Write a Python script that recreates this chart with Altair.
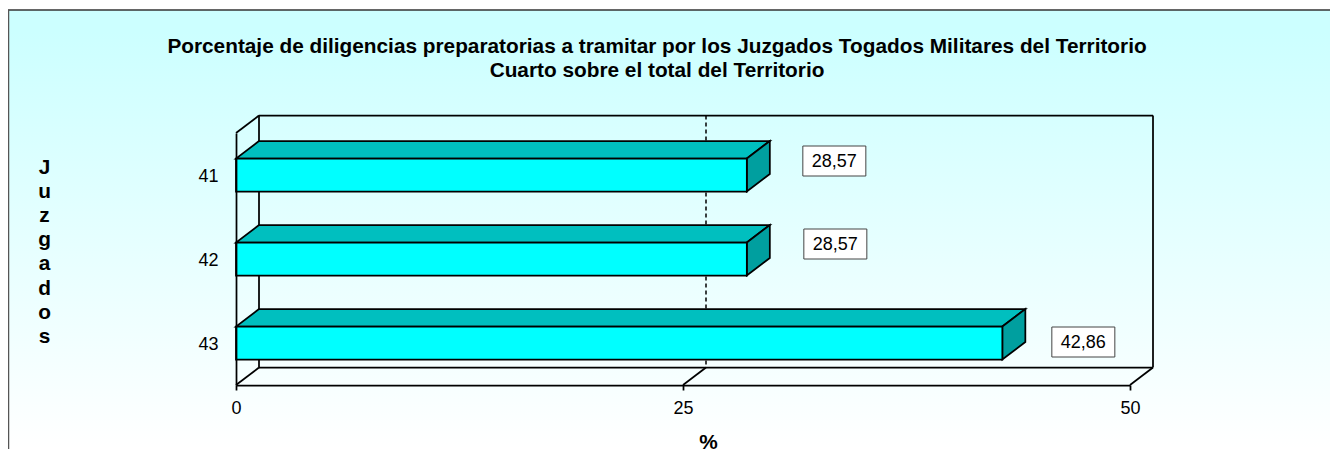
import altair as alt
import pandas as pd

juzgados = ["41", "42", "43"]
valores = [28.57, 28.57, 42.86]
etiquetas = ["28,57", "28,57", "42,86"]
x_ticks = [0, 25, 50]
label_dx_px = [87.5, 88.5, 81.0]
label_dy_px = [-14.0, -15.0, -1.0]

FONT = "Liberation Sans"
FS = 18
FSB = 20.8
LW = 1.75
W, H = 894, 252
PX = W / 50.0
PY = H / 3.0
DX = 23 / PX
DY = 17.5 / PY
HALF = 16.5 / PY
BOX_W, BOX_H = 63 / PX, 30 / PY

xs = alt.Scale(domain=[0, 50], nice=False, zero=False)
ys = alt.Scale(domain=[3, 0], nice=False, zero=False)

top_rows, side_rows, label_rows = [], [], []
for i, (j, v, t, ldx, ldy) in enumerate(zip(juzgados, valores, etiquetas, label_dx_px, label_dy_px)):
    c = i + 0.5
    top_rows += [
        {"j": j, "y": c - HALF, "a": 0, "b": v},
        {"j": j, "y": c - HALF - DY, "a": DX, "b": v + DX},
    ]
    side_rows += [
        {"j": j, "x": v, "a": c - HALF, "b": c + HALF},
        {"j": j, "x": v + DX, "a": c - HALF - DY, "b": c + HALF - DY},
    ]
    lx = v + ldx / PX
    ly = c + ldy / PY
    label_rows.append({"t": t, "x": lx, "y": ly, "x0": lx - BOX_W / 2, "x1": lx + BOX_W / 2,
                       "y0": ly - BOX_H / 2, "y1": ly + BOX_H / 2})

bars = pd.DataFrame({"j": juzgados, "v": valores, "y0": [i + 0.5 - HALF for i in range(3)],
                     "y1": [i + 0.5 + HALF for i in range(3)], "x0": [0, 0, 0]})

segs = [
    ("back_top", 0 + DX, 0 - DY), ("back_top", 50 + DX, 0 - DY),
    ("back_right", 50 + DX, 0 - DY), ("back_right", 50 + DX, 3 - DY),
    ("back_bottom", 0 + DX, 3 - DY), ("back_bottom", 50 + DX, 3 - DY),
    ("back_left", 0 + DX, 0 - DY), ("back_left", 0 + DX, 3 - DY),
    ("left_top", 0, 0), ("left_top", DX, -DY),
    ("left_bottom", 0, 3), ("left_bottom", DX, 3 - DY),
    ("floor_25", 25, 3), ("floor_25", 25 + DX, 3 - DY),
    ("floor_50", 50, 3), ("floor_50", 50 + DX, 3 - DY),
]
seg_df = pd.DataFrame(segs, columns=["s", "x", "y"])
grid_df = pd.DataFrame({"x": [25 + DX, 25 + DX], "y": [-DY, 3 - DY]})

bg = alt.Chart(pd.DataFrame({"a": [0]})).mark_rect(
    color=alt.Gradient(gradient="linear", x1=0, x2=0, y1=0, y2=1,
                       stops=[alt.GradientStop(color="#CCFFFF", offset=0.05),
                              alt.GradientStop(color="#FFFFFF", offset=1)])
).encode(x=alt.value(-228), x2=alt.value(1094), y=alt.value(-123), y2=alt.value(316))

border_top = alt.Chart(pd.DataFrame({"a": [0]})).mark_rule(color="#333333", strokeWidth=1.5).encode(
    x=alt.value(-228), x2=alt.value(1094), y=alt.value(-123))
border_left = alt.Chart(pd.DataFrame({"a": [0]})).mark_rule(color="#555555", strokeWidth=1.5).encode(
    x=alt.value(-227.5), y=alt.value(-123), y2=alt.value(316))

walls = alt.Chart(seg_df).mark_line(color="#000000", strokeWidth=LW).encode(
    x=alt.X("x:Q", scale=xs,
            axis=alt.Axis(values=x_ticks, grid=False, domainColor="#000000", domainWidth=LW,
                          tickColor="#000000", tickWidth=LW, tickSize=5,
                          labelFont=FONT, labelFontSize=FS, labelColor="#000000", labelPadding=9,
                          labelFlush=False, labelOverlap=False,
                          title="%", titleFont=FONT, titleFontSize=FSB, titleFontWeight="bold",
                          titleColor="#000000", titleX=472, titleY=47, zindex=1, format="d")),
    y=alt.Y("y:Q", scale=ys,
            axis=alt.Axis(values=[0.5, 1.5, 2.5], grid=False, domainColor="#000000", domainWidth=LW,
                          ticks=False, labelFont=FONT, labelFontSize=FS, labelColor="#000000",
                          labelPadding=18, labelOverlap=False, labelOffset=1.5,
                          labelExpr="datum.value < 1 ? '41' : datum.value < 2 ? '42' : '43'",
                          title=list("Juzgados"), titleFont=FONT, titleFontSize=FSB,
                          titleFontWeight="bold", titleColor="#000000", titleAngle=0,
                          titleX=-192, titleY=34, titleLineHeight=24.2, titleAlign="center",
                          titleBaseline="middle", zindex=1)),
    detail="s:N",
)
grid = alt.Chart(grid_df).mark_line(color="#000000", strokeWidth=1.5, strokeDash=[4, 3]).encode(
    x=alt.X("x:Q", scale=xs), y=alt.Y("y:Q", scale=ys))

top = alt.Chart(pd.DataFrame(top_rows)).mark_area(
    orient="horizontal", color="#00BFBF", stroke="#000000", strokeWidth=LW
).encode(y=alt.Y("y:Q", scale=ys), x=alt.X("a:Q", scale=xs), x2="b:Q", detail="j:N")
side = alt.Chart(pd.DataFrame(side_rows)).mark_area(
    orient="vertical", color="#009F9F", stroke="#000000", strokeWidth=LW
).encode(x=alt.X("x:Q", scale=xs), y=alt.Y("a:Q", scale=ys), y2="b:Q", detail="j:N")
front = alt.Chart(bars).mark_rect(color="#00FFFF", stroke="#000000", strokeWidth=LW).encode(
    x=alt.X("x0:Q", scale=xs), x2="v:Q", y=alt.Y("y0:Q", scale=ys), y2="y1:Q")

lab_df = pd.DataFrame(label_rows)
boxes = alt.Chart(lab_df).mark_rect(color="#FFFFFF", stroke="#444444", strokeWidth=1).encode(
    x=alt.X("x0:Q", scale=xs), x2="x1:Q", y=alt.Y("y0:Q", scale=ys), y2="y1:Q")
texts = alt.Chart(lab_df).mark_text(font=FONT, fontSize=FS, color="#000000", align="center", baseline="middle", dy=1).encode(
    x=alt.X("x:Q", scale=xs), y=alt.Y("y:Q", scale=ys), text="t:N")

chart = alt.layer(bg, border_top, border_left, walls, grid, top, side, front, boxes, texts).properties(
    width=W, height=H,
    padding={"left": 228, "top": 125, "right": 200, "bottom": 64},
    autosize=alt.AutoSizeParams(type="none"),
    background="#FFFFFF",
    title=alt.TitleParams(
        text=["Porcentaje de diligencias preparatorias a tramitar por los Juzgados Togados Militares del Territorio",
              "Cuarto sobre el total del Territorio"],
        font=FONT, fontSize=FSB, fontWeight="bold", color="#000000", anchor="middle",
        dx=-26, offset=-72.5, lineHeight=23.5),
).configure_view(stroke=None)

chart.save("out.html", embed_options={"renderer": "svg", "actions": False})
